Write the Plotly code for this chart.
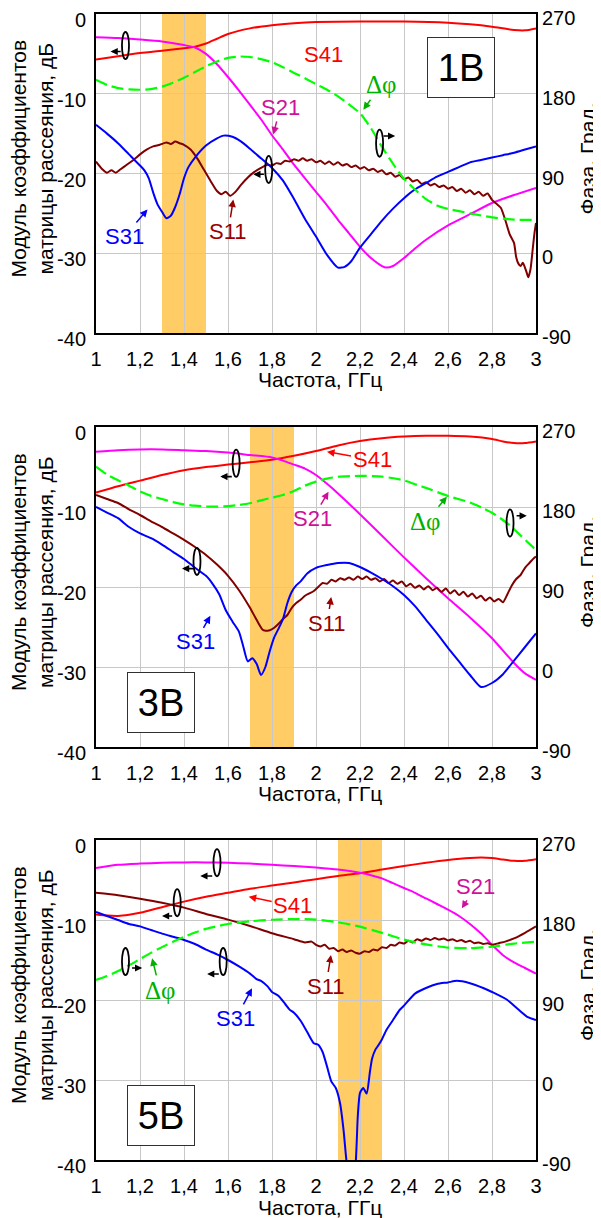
import plotly.graph_objects as go

# ---------------- axis ticks / labels ----------------
FREQ_TICKS = [1.0, 1.2, 1.4, 1.6, 1.8, 2.0, 2.2, 2.4, 2.6, 2.8, 3.0]
FREQ_TICK_TEXT = ["1", "1,2", "1,4", "1,6", "1,8", "2", "2,2", "2,4", "2,6", "2,8", "3"]
DB_TICKS = [-40, -30, -20, -10, 0]
DB_TICK_TEXT = ["-40", "-30", "-20", "-10", "0"]
PHASE_TICKS = [-90, 0, 90, 180, 270]
PHASE_TICK_TEXT = ["-90", "0", "90", "180", "270"]
PANEL_LABELS = ["1В", "3В", "5В"]
BANDS = [[1.3, 1.5], [1.7, 1.9], [2.1, 2.3]]

# ---------------- panel 1 (1 V) ----------------
p1_s41_f = [1.0, 1.1, 1.2, 1.3, 1.4, 1.45, 1.5, 1.55, 1.6, 1.7, 1.8, 1.9, 2.0, 2.2, 2.4, 2.6, 2.7, 2.8, 2.9, 2.95, 3.0]
p1_s41 = [-5.7, -5.3, -4.9, -4.6, -4.3, -4.1, -3.7, -3.1, -2.5, -1.8, -1.4, -1.15, -1.0, -0.95, -0.95, -1.1, -1.3, -1.6, -2.0, -2.05, -1.8]

p1_s21_f = [1.0, 1.1, 1.2, 1.3, 1.4, 1.45, 1.5, 1.55, 1.6, 1.65, 1.7, 1.75, 1.8, 1.85, 1.9, 1.95, 2.0, 2.05, 2.1, 2.15, 2.2, 2.25, 2.3, 2.32, 2.35, 2.4, 2.45, 2.5, 2.6, 2.7, 2.8, 2.9, 3.0]
p1_s21 = [-2.9, -3.0, -3.2, -3.45, -3.9, -4.2, -5.0, -6.3, -7.9, -9.6, -11.4, -13.2, -15.2, -17.0, -18.9, -20.6, -22.3, -24.0, -25.8, -27.5, -29.2, -30.6, -31.6, -31.8, -31.6, -30.6, -29.4, -28.3, -26.5, -25.1, -23.7, -22.7, -21.8]

p1_s31_f = [1.0, 1.05, 1.1, 1.15, 1.2, 1.22, 1.24, 1.26, 1.28, 1.3, 1.32, 1.34, 1.36, 1.38, 1.4, 1.42, 1.45, 1.5, 1.55, 1.58, 1.62, 1.66, 1.7, 1.75, 1.8, 1.85, 1.9, 1.95, 2.0, 2.05, 2.1, 2.13, 2.16, 2.2, 2.25, 2.3, 2.35, 2.4, 2.45, 2.5, 2.55, 2.6, 2.65, 2.7, 2.75, 2.8, 2.85, 2.9, 2.95, 3.0]
p1_s31 = [-13.9, -15.0, -16.2, -17.6, -19.0, -19.6, -20.6, -22.4, -23.9, -24.8, -25.6, -25.3, -24.2, -22.6, -20.6, -19.2, -18.0, -16.5, -15.6, -15.25, -15.4, -16.0, -16.9, -18.1, -19.3, -20.9, -23.2, -25.7, -27.9, -30.2, -31.8, -31.7, -31.0, -29.3, -27.6, -25.9, -24.4, -23.1, -22.0, -21.2, -20.4, -19.8, -19.2, -18.6, -18.3, -18.0, -17.7, -17.4, -17.0, -16.6]

p1_s11_f = [1.0, 1.03, 1.05, 1.07, 1.09, 1.11, 1.14, 1.17, 1.2, 1.23, 1.26, 1.29, 1.32, 1.34, 1.36, 1.38, 1.4, 1.43, 1.46, 1.49, 1.52, 1.55, 1.57, 1.59, 1.61, 1.63, 1.66, 1.69, 1.72, 1.75, 1.78, 1.8, 1.82, 1.84, 1.86, 1.88, 1.9, 1.92, 1.94, 1.96, 1.98, 2.0, 2.02, 2.04, 2.06, 2.08, 2.1, 2.12, 2.14, 2.16, 2.18, 2.2, 2.22, 2.24, 2.26, 2.28, 2.3, 2.32, 2.34, 2.36, 2.38, 2.4, 2.42, 2.44, 2.46, 2.48, 2.5, 2.52, 2.54, 2.56, 2.58, 2.6, 2.62, 2.64, 2.66, 2.68, 2.7, 2.72, 2.74, 2.76, 2.78, 2.8, 2.82, 2.84, 2.86, 2.88, 2.9, 2.91, 2.92, 2.93, 2.94, 2.955, 2.965, 2.975, 2.985, 2.993, 3.0]
p1_s11 = [-18.5, -19.5, -19.9, -19.6, -19.9, -19.5, -18.9, -18.3, -17.6, -17.0, -16.6, -16.4, -16.1, -16.3, -16.0, -16.2, -16.4, -17.0, -18.1, -19.5, -20.9, -22.2, -22.6, -22.3, -22.8, -22.4, -21.4, -20.5, -19.8, -19.3, -18.9, -19.0, -18.7, -18.8, -18.4, -18.5, -18.2, -18.4, -18.1, -18.4, -18.2, -18.6, -18.4, -18.8, -18.5, -18.9, -18.6, -19.0, -18.8, -19.2, -19.0, -19.4, -19.2, -19.6, -19.4, -19.8, -19.6, -20.1, -19.9, -20.4, -20.2, -20.7, -20.5, -21.0, -20.8, -21.3, -21.1, -21.5, -21.3, -21.7, -21.5, -21.9, -21.7, -22.2, -21.9, -22.4, -22.1, -22.6, -22.3, -22.8, -22.5, -23.3, -23.8, -24.3, -25.8, -27.6, -28.7, -30.5, -31.3, -31.6, -31.2, -32.2, -33.0, -32.0, -29.5, -27.5, -26.2]

p1_dphi_f = [1.0, 1.05, 1.1, 1.15, 1.2, 1.25, 1.3, 1.35, 1.4, 1.45, 1.5, 1.55, 1.6, 1.65, 1.7, 1.75, 1.8, 1.85, 1.9, 1.95, 2.0, 2.05, 2.1, 2.15, 2.2, 2.25, 2.3, 2.35, 2.4, 2.45, 2.5, 2.55, 2.6, 2.65, 2.7, 2.8, 2.9, 3.0]
p1_dphi = [195.8, 190.0, 186.4, 185.0, 184.5, 185.2, 188.0, 192.5, 198.0, 204.5, 211.0, 216.5, 220.5, 222.0, 221.5, 219.0, 215.5, 210.0, 203.5, 197.5, 190.8, 184.5, 177.0, 168.0, 158.0, 141.0, 120.0, 101.0, 84.0, 72.0, 61.0, 54.0, 50.0, 47.5, 45.0, 40.5, 38.0, 37.5]

# ---------------- panel 2 (3 V) ----------------
p2_s41_f = [1.0, 1.1, 1.2, 1.3, 1.4, 1.5, 1.6, 1.7, 1.8, 1.9, 2.0, 2.1, 2.2, 2.3, 2.4, 2.5, 2.6, 2.7, 2.8, 2.85, 2.9, 2.95, 3.0]
p2_s41 = [-8.2, -7.4, -6.7, -6.0, -5.4, -5.0, -4.7, -4.4, -4.1, -3.6, -3.0, -2.3, -1.75, -1.4, -1.2, -1.1, -1.1, -1.2, -1.5, -1.8, -2.0, -2.0, -1.8]

p2_s21_f = [1.0, 1.1, 1.2, 1.3, 1.4, 1.5, 1.6, 1.7, 1.8, 1.85, 1.9, 1.95, 2.0, 2.05, 2.1, 2.2, 2.3, 2.4, 2.5, 2.6, 2.7, 2.8, 2.9, 2.95, 3.0]
p2_s21 = [-3.1, -2.9, -2.8, -2.8, -2.9, -3.0, -3.2, -3.5, -3.8, -4.2, -4.7, -5.2, -6.0, -7.1, -8.3, -10.9, -13.6, -16.3, -18.9, -21.4, -23.8, -26.4, -29.5, -30.8, -31.6]

p2_s31_f = [1.0, 1.05, 1.1, 1.15, 1.2, 1.25, 1.3, 1.35, 1.4, 1.45, 1.5, 1.53, 1.56, 1.59, 1.62, 1.65, 1.67, 1.69, 1.71, 1.73, 1.75, 1.77, 1.79, 1.81, 1.83, 1.85, 1.87, 1.89, 1.91, 1.93, 1.96, 2.0, 2.05, 2.1, 2.15, 2.2, 2.25, 2.3, 2.35, 2.4, 2.45, 2.5, 2.55, 2.6, 2.65, 2.7, 2.75, 2.8, 2.85, 2.9, 2.95, 3.0]
p2_s31 = [-10.0, -10.7, -11.4, -12.5, -13.3, -13.9, -14.7, -15.6, -16.5, -17.6, -18.6, -19.6, -20.9, -22.9, -24.3, -25.6, -27.5, -29.3, -28.9, -29.6, -31.0, -30.0, -28.0, -26.3, -25.2, -24.0, -22.0, -20.6, -19.8, -19.3, -18.3, -17.6, -17.25, -17.0, -17.0, -17.5, -18.2, -19.0, -19.9, -21.0, -22.4, -24.1, -25.8, -27.6, -29.3, -31.0, -32.5, -32.0, -30.9, -29.2, -27.5, -25.8]

p2_s11_f = [1.0, 1.05, 1.1, 1.15, 1.2, 1.25, 1.3, 1.35, 1.4, 1.45, 1.5, 1.55, 1.6, 1.65, 1.7, 1.73, 1.76, 1.79, 1.81, 1.83, 1.85, 1.87, 1.89, 1.91, 1.93, 1.95, 1.97, 1.99, 2.01, 2.03, 2.05, 2.07, 2.09, 2.11, 2.13, 2.15, 2.17, 2.19, 2.21, 2.23, 2.25, 2.27, 2.29, 2.31, 2.33, 2.35, 2.37, 2.39, 2.41, 2.43, 2.45, 2.47, 2.49, 2.51, 2.53, 2.55, 2.57, 2.59, 2.61, 2.63, 2.65, 2.67, 2.69, 2.71, 2.73, 2.75, 2.77, 2.79, 2.81, 2.83, 2.85, 2.87, 2.89, 2.91, 2.93, 2.95, 2.97, 2.99, 3.0]
p2_s11 = [-8.5, -9.0, -9.5, -10.3, -11.0, -11.8, -12.5, -13.3, -14.1, -15.0, -16.0, -17.2, -18.6, -20.4, -22.6, -24.1, -25.4, -25.4, -25.1, -24.6, -24.0, -23.5, -22.6, -22.0, -21.6, -21.1, -20.8, -20.5, -20.0, -19.5, -19.6, -19.1, -19.3, -18.9, -19.1, -18.8, -19.1, -18.7, -19.0, -18.7, -19.1, -18.9, -19.3, -19.0, -19.5, -19.2, -19.6, -19.3, -19.9, -19.6, -20.1, -19.8, -20.3, -19.9, -20.4, -20.1, -20.6, -20.2, -20.8, -20.4, -21.0, -20.6, -21.2, -20.8, -21.4, -21.1, -21.7, -21.3, -21.8, -21.5, -21.9, -20.9, -19.8, -19.0, -18.5, -17.6, -17.0, -16.4, -16.2]

p2_dphi_f = [1.0, 1.05, 1.1, 1.15, 1.2, 1.25, 1.3, 1.35, 1.4, 1.45, 1.5, 1.55, 1.6, 1.65, 1.7, 1.75, 1.8, 1.85, 1.9, 1.95, 2.0, 2.05, 2.1, 2.2, 2.3, 2.4, 2.46, 2.5, 2.61, 2.7, 2.76, 2.8, 2.87, 2.93, 3.0]
p2_dphi = [225.4, 216.5, 210.0, 204.0, 197.5, 192.5, 189.0, 185.5, 183.0, 181.5, 180.6, 180.4, 181.0, 182.3, 184.2, 187.5, 190.5, 193.5, 198.0, 204.0, 208.5, 212.0, 214.0, 215.0, 214.2, 210.0, 204.8, 201.5, 191.6, 185.0, 178.5, 173.5, 161.7, 148.0, 131.6]

# ---------------- panel 3 (5 V) ----------------
p3_s41_f = [1.0, 1.05, 1.1, 1.15, 1.2, 1.25, 1.3, 1.4, 1.5, 1.6, 1.7, 1.8, 1.9, 2.0, 2.1, 2.2, 2.3, 2.4, 2.5, 2.6, 2.7, 2.75, 2.8, 2.85, 2.9, 2.95, 3.0]
p3_s41 = [-9.3, -9.45, -9.5, -9.35, -9.1, -8.75, -8.4, -7.7, -7.1, -6.6, -6.1, -5.7, -5.3, -4.9, -4.5, -4.15, -3.7, -3.25, -2.85, -2.5, -2.25, -2.2, -2.25, -2.45, -2.6, -2.6, -2.4]

p3_s21_f = [1.0, 1.1, 1.2, 1.3, 1.4, 1.5, 1.6, 1.7, 1.8, 1.9, 2.0, 2.1, 2.2, 2.25, 2.3, 2.35, 2.4, 2.45, 2.5, 2.55, 2.6, 2.65, 2.7, 2.75, 2.8, 2.85, 2.9, 2.95, 3.0]
p3_s21 = [-3.5, -3.1, -2.95, -2.85, -2.8, -2.8, -2.85, -2.95, -3.1, -3.25, -3.45, -3.7, -4.1, -4.4, -4.8, -5.4, -6.0, -6.6, -7.3, -8.0, -8.7, -9.5, -10.5, -11.7, -13.1, -14.4, -15.3, -16.0, -16.7]

p3_s31_f = [1.0, 1.05, 1.1, 1.15, 1.2, 1.25, 1.3, 1.35, 1.4, 1.45, 1.5, 1.55, 1.6, 1.65, 1.7, 1.73, 1.75, 1.78, 1.8, 1.83, 1.86, 1.88, 1.9, 1.93, 1.96, 1.99, 2.01, 2.03, 2.05, 2.07, 2.09, 2.11, 2.125, 2.14, 2.16, 2.18, 2.19, 2.2, 2.215, 2.23, 2.245, 2.255, 2.27, 2.285, 2.3, 2.32, 2.35, 2.38, 2.4, 2.45, 2.5, 2.55, 2.6, 2.64, 2.7, 2.76, 2.8, 2.87, 2.92, 2.96, 3.0]
p3_s31 = [-9.0, -9.5, -10.0, -10.5, -10.8, -11.25, -11.7, -12.1, -12.5, -13.0, -13.7, -14.3, -15.0, -15.8, -16.7, -17.4, -17.6, -18.3, -19.0, -19.5, -20.5, -21.2, -21.6, -22.6, -24.0, -25.4, -25.6, -26.5, -28.3, -30.2, -31.0, -33.0, -36.2, -40.5, -44.0, -40.5, -34.5, -31.6, -31.0, -31.7, -29.0, -27.3, -26.2, -25.6, -24.9, -23.75, -22.5, -21.25, -20.7, -19.2, -18.5, -18.0, -17.8, -17.6, -17.9, -18.5, -19.0, -20.0, -21.2, -22.1, -22.5]

p3_s11_f = [1.0, 1.1, 1.2, 1.3, 1.4, 1.5, 1.6, 1.7, 1.8, 1.9, 1.95, 1.98, 2.0, 2.02, 2.04, 2.06, 2.08, 2.1, 2.12, 2.14, 2.16, 2.18, 2.2, 2.22, 2.24, 2.26, 2.28, 2.3, 2.32, 2.34, 2.36, 2.38, 2.4, 2.42, 2.44, 2.46, 2.48, 2.5, 2.52, 2.54, 2.56, 2.58, 2.6, 2.62, 2.64, 2.66, 2.68, 2.7, 2.72, 2.74, 2.76, 2.78, 2.8, 2.83, 2.86, 2.9, 2.95, 3.0]
p3_s11 = [-6.6, -6.9, -7.35, -7.85, -8.45, -9.25, -9.95, -10.75, -11.65, -12.4, -12.8, -12.7, -13.1, -13.3, -13.1, -13.6, -13.5, -13.9, -13.7, -14.0, -13.8, -14.1, -14.2, -13.9, -14.0, -13.7, -13.8, -13.4, -13.5, -13.1, -13.2, -12.8, -12.95, -12.6, -12.8, -12.4, -12.6, -12.3, -12.5, -12.25, -12.45, -12.3, -12.55, -12.4, -12.65, -12.5, -12.75, -12.6, -12.9, -12.8, -13.0, -12.9, -13.1, -12.9, -12.7, -12.3, -11.6, -10.8]

p3_dphi_f = [1.0, 1.05, 1.1, 1.15, 1.2, 1.25, 1.3, 1.35, 1.4, 1.45, 1.5, 1.55, 1.6, 1.7, 1.8, 1.9, 2.0, 2.1, 2.2, 2.3, 2.4, 2.5, 2.6, 2.7, 2.8, 2.9, 3.0]
p3_dphi = [112.5, 117.0, 122.5, 129.0, 136.0, 143.0, 149.5, 155.5, 161.0, 166.0, 170.0, 173.0, 175.5, 178.5, 180.3, 181.0, 180.5, 177.5, 172.5, 165.5, 158.0, 152.5, 149.0, 148.3, 150.0, 153.5, 155.6]

# ---------------- styles ----------------
C_S41, C_S21, C_S31, C_S11, C_DPHI = "#FF0000", "#FF00FF", "#0000FF", "#800000", "#00FF00"
T_S41, T_S21, T_S31, T_S11, T_DPHI = "#FF0000", "#D0109A", "#0000FF", "#9A0000", "#00B000"
FONT = "Arial, Liberation Sans, sans-serif"
SERIF = "Times New Roman, Liberation Serif, serif"

PANELS = [
    dict(s41=(p1_s41_f, p1_s41), s21=(p1_s21_f, p1_s21), s31=(p1_s31_f, p1_s31), s11=(p1_s11_f, p1_s11), dphi=(p1_dphi_f, p1_dphi)),
    dict(s41=(p2_s41_f, p2_s41), s21=(p2_s21_f, p2_s21), s31=(p2_s31_f, p2_s31), s11=(p2_s11_f, p2_s11), dphi=(p2_dphi_f, p2_dphi)),
    dict(s41=(p3_s41_f, p3_s41), s21=(p3_s21_f, p3_s21), s31=(p3_s31_f, p3_s31), s11=(p3_s11_f, p3_s11), dphi=(p3_dphi_f, p3_dphi)),
]

# The page body has an 8px margin, so the figure is offset by (8, 8) in the window.
OFF = 8
W, H = 601 - OFF, 1218 - OFF
ML, MR, MT, MB = 96 - OFF, 601 - 536, 14 - OFF, 1218 - 1160
PH = H - MT - MB
PW = W - ML - MR
# panel extents in window pixels (top, bottom)
PANEL_PX = [(14, 333), (427, 747), (840, 1160)]


def py_paper(ypx):
    return (H - MB - (ypx - OFF)) / PH


def px_paper(xpx):
    return ((xpx - OFF) - ML) / PW


fig = go.Figure()
layout = dict(
    width=W, height=H, paper_bgcolor="white", plot_bgcolor="white",
    margin=dict(l=ML, r=MR, t=MT, b=MB, autoexpand=False), showlegend=False,
    font=dict(family=FONT, size=20, color="black"),
)
shapes, annotations = [], []

for i, pan in enumerate(PANELS):
    xn = "x" if i == 0 else f"x{i + 1}"
    yl = f"y{2 * i + 1}" if i > 0 else "y"
    yr = f"y{2 * i + 2}"
    xkey = "xaxis" if i == 0 else f"xaxis{i + 1}"
    ylkey = "yaxis" if i == 0 else f"yaxis{2 * i + 1}"
    yrkey = f"yaxis{2 * i + 2}"
    d = [py_paper(PANEL_PX[i][1]), py_paper(PANEL_PX[i][0])]
    layout[xkey] = dict(domain=[0, 1], anchor=yl, range=[1, 3], tickvals=FREQ_TICKS, ticktext=FREQ_TICK_TEXT,
                        showgrid=True, gridcolor="#C8C8C8", gridwidth=1, showline=True, linecolor="black",
                        linewidth=2, mirror=True, ticks="", zeroline=False, tickfont=dict(size=20),
                        ticklabelstandoff=7, automargin=False, ticklabeloverflow="allow")
    layout[ylkey] = dict(domain=d, anchor=xn, range=[-40, 0], tickvals=DB_TICKS, ticktext=DB_TICK_TEXT,
                         showgrid=True, gridcolor="#C8C8C8", gridwidth=1, showline=True, linecolor="black",
                         linewidth=2, mirror=True, ticks="", zeroline=False, tickfont=dict(size=20),
                         ticklabelstandoff=4, ticklabelshift=6, automargin=False, ticklabeloverflow="allow")
    layout[yrkey] = dict(overlaying=yl, side="right", anchor=xn, range=[-90, 270], tickvals=PHASE_TICKS,
                         ticktext=PHASE_TICK_TEXT, showgrid=False, showline=False, ticks="", zeroline=False,
                         tickfont=dict(size=20), ticklabelstandoff=5, ticklabelshift=4, automargin=False,
                         ticklabeloverflow="allow")

    b = BANDS[i]
    shapes.append(dict(type="rect", xref=xn, yref=f"{yl} domain", x0=b[0], x1=b[1], y0=0, y1=1,
                       fillcolor="#FFCC66", line=dict(width=0), layer="below"))

    fig.add_trace(go.Scatter(x=pan["dphi"][0], y=pan["dphi"][1], xaxis=xn, yaxis=yr, mode="lines",
                             line=dict(color=C_DPHI, width=2.2, dash="12px,5px", shape="spline", smoothing=0.6),
                             hoverinfo="skip"))
    for key, col in (("s41", C_S41), ("s21", C_S21), ("s11", C_S11), ("s31", C_S31)):
        fig.add_trace(go.Scatter(x=pan[key][0], y=pan[key][1], xaxis=xn, yaxis=yl, mode="lines",
                                 line=dict(color=col, width=2, shape="spline", smoothing=0.6),
                                 hoverinfo="skip"))

    # axis titles
    cy = (PANEL_PX[i][0] + PANEL_PX[i][1]) / 2 - 15
    annotations.append(dict(xref="paper", yref="paper", x=px_paper(32), y=py_paper(cy),
                            text="Модуль коэффициентов<br>матрицы рассеяния, дБ", textangle=-90,
                            showarrow=False, font=dict(size=21), xanchor="center", yanchor="middle"))
    annotations.append(dict(xref="paper", yref="paper", x=px_paper(587), y=py_paper(cy),
                            text="Фаза, Град.", textangle=-90, showarrow=False, font=dict(size=21),
                            xanchor="center", yanchor="middle"))
    annotations.append(dict(xref="paper", yref="paper", x=px_paper(320), y=py_paper(PANEL_PX[i][1] + 47),
                            text="Частота, ГГц", showarrow=False, font=dict(size=21),
                            xanchor="center", yanchor="middle"))

# ---------------- curve labels with arrows ----------------
LABELS = [
    # panel, text, head x, head y (dB), ax, ay, colour, serif
    (0, "S41", 1.942, -1.75, 20, 27, T_S41, False),
    (0, "S21", 1.806, -15.1, 7, -27, T_S21, False),
    (0, "Δφ", 2.215, -12.0, 18, -25, T_DPHI, True),
    (0, "S31", 1.234, -24.5, -23, 27, T_S31, False),
    (0, "S11", 1.624, -23.25, -5, 32, T_S11, False),
    (1, "S41", 2.05, -3.09, 45, 8, T_S41, False),
    (1, "S21", 2.057, -8.09, -16, 27, T_S21, False),
    (1, "Δφ", 2.595, -8.71, -21, 25, T_DPHI, True),
    (1, "S31", 1.52, -23.6, -15, 26, T_S31, False),
    (1, "S11", 2.069, -21.25, -4, 26, T_S11, False),
    (2, "S41", 1.694, -7.09, 44, 9, T_S41, False),
    (2, "S21", 2.663, -8.54, 14, -22, T_S21, False),
    (2, "Δφ", 1.255, -14.79, 8, 32, T_DPHI, True),
    (2, "S31", 1.709, -18.54, -16, 30, T_S31, False),
    (2, "S11", 2.068, -14.375, -5, 31, T_S11, False),
]
for p, txt, hx, hy, ax, ay, col, serif in LABELS:
    xn = "x" if p == 0 else f"x{p + 1}"
    yl = "y" if p == 0 else f"y{2 * p + 1}"
    annotations.append(dict(xref=xn, yref=yl, x=hx, y=hy, ax=ax, ay=ay, text=txt, showarrow=True,
                            arrowhead=2, arrowsize=1, arrowwidth=1.5, arrowcolor=col,
                            font=dict(size=25 if serif else 22, color=col, family=SERIF if serif else FONT)))

# ---------------- panel voltage boxes ----------------
BOX_POS = [(2.66, -6.75), (1.297, -34.4), (1.297, -34.4)]
for p, (bx, by) in enumerate(BOX_POS):
    xn = "x" if p == 0 else f"x{p + 1}"
    yl = "y" if p == 0 else f"y{2 * p + 1}"
    annotations.append(dict(xref=xn, yref=yl, x=bx, y=by, text=PANEL_LABELS[p], showarrow=False,
                            font=dict(size=38), bgcolor="white", bordercolor="#303030", borderwidth=1,
                            width=64, height=57, align="center", valign="middle"))

# ---------------- axis-indicator ellipses with arrows ----------------
# panel, centre x, centre y (dB), arrow tail x, arrow y, arrow head x
ELLIPSES = [
    (0, 1.134, -3.96, 1.119, -4.7, 1.066),
    (0, 1.785, -19.5, 1.770, -20.1, 1.715),
    (0, 2.289, -16.2, 2.300, -15.3, 2.360),
    (1, 1.637, -4.54, 1.624, -6.2, 1.565),
    (1, 1.459, -16.8, 1.452, -17.7, 1.391),
    (1, 2.882, -12.0, 2.905, -11.1, 2.958),
    (2, 1.550, -2.84, 1.535, -4.5, 1.474),
    (2, 1.369, -7.84, 1.353, -9.5, 1.300),
    (2, 1.134, -15.2, 1.157, -16.0, 1.210),
    (2, 1.578, -15.2, 1.565, -16.75, 1.505),
]
EW, EH = 0.016, 1.7
for p, cx, cy, tx, ty, hx in ELLIPSES:
    xn = "x" if p == 0 else f"x{p + 1}"
    yl = "y" if p == 0 else f"y{2 * p + 1}"
    shapes.append(dict(type="circle", xref=xn, yref=yl, x0=cx - EW, x1=cx + EW, y0=cy - EH, y1=cy + EH,
                       line=dict(color="black", width=1.8), fillcolor="rgba(0,0,0,0)", layer="above"))
    annotations.append(dict(xref=xn, yref=yl, axref=xn, ayref=yl, x=hx, y=ty, ax=tx, ay=ty, text="",
                            showarrow=True, arrowhead=2, arrowsize=0.9, arrowwidth=1.6, arrowcolor="black"))

layout["shapes"] = shapes
layout["annotations"] = annotations
fig.update_layout(**layout)
fig.write_html("out.html")
